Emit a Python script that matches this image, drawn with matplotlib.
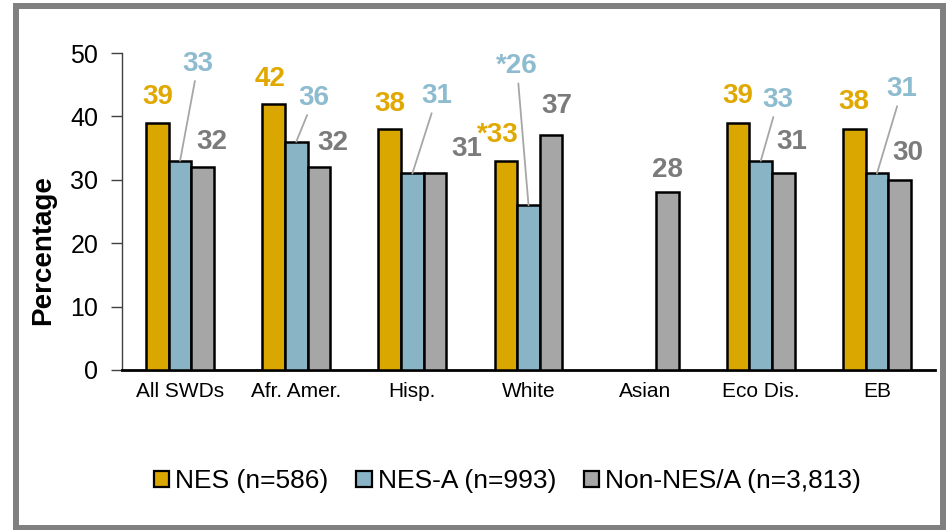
import matplotlib
matplotlib.use('Agg')
import matplotlib.pyplot as plt
import numpy as np
from matplotlib.patches import Rectangle

plt.rcParams['font.family'] = ['Liberation Sans', 'DejaVu Sans']

# data
categories = ['All SWDs', 'Afr. Amer.', 'Hisp.', 'White', 'Asian', 'Eco Dis.', 'EB']
nes = [39, 42, 38, 33, np.nan, 39, 38]
nes_a = [33, 36, 31, 26, np.nan, 33, 31]
non_nes = [32, 32, 31, 37, 28, 31, 30]
nes_labels = ['39', '42', '38', '*33', '', '39', '38']
nes_a_labels = ['33', '36', '31', '*26', '', '33', '31']
non_labels = ['32', '32', '31', '37', '28', '31', '30']
series_names = ['NES (n=586)', 'NES-A (n=993)', 'Non-NES/A (n=3,813)']

# label placement (offsets from bar top, data units)
nes_dx = [0.0, -0.03, 0.0, -0.07, 0.0, 0.0, 0.0]
nes_dy = [4.1, 3.9, 3.9, 4.0, 0.0, 4.2, 4.2]
non_dx = [0.08, 0.12, 0.275, 0.05, 0.0, 0.075, 0.075]
non_dy = [3.9, 3.8, 3.8, 4.6, 3.6, 4.9, 4.3]
nes_a_dx = [0.155, 0.154, 0.213, -0.10, 0.0, 0.15, 0.218]
nes_a_dy = [15.3, 6.9, 12.2, 21.9, 0.0, 9.6, 13.3]

gold, blue, grey = '#D9A700', '#88B4C6', '#A6A6A6'
gold_txt, blue_txt, grey_txt = '#E0A800', '#8DBBCF', '#7B7B7B'

fig = plt.figure(figsize=(9.51, 5.30), dpi=100)
ax = fig.add_axes([0.1283, 0.3019, 0.8549, 0.5981])

x = np.arange(len(categories))
w = 0.195
ax.bar(x - w, nes, w, color=gold, edgecolor='black', linewidth=1.8, label=series_names[0], zorder=3)
ax.bar(x, nes_a, w, color=blue, edgecolor='black', linewidth=1.8, label=series_names[1], zorder=3)
ax.bar(x + w, non_nes, w, color=grey, edgecolor='black', linewidth=1.8, label=series_names[2], zorder=3)

lab_font = dict(fontsize=20, fontweight='bold', ha='center', va='center')
for i in range(len(categories)):
    if not np.isnan(nes[i]):
        ax.text(x[i] - w + nes_dx[i], nes[i] + nes_dy[i], nes_labels[i], color=gold_txt, **lab_font)
    if not np.isnan(nes_a[i]):
        ax.annotate(nes_a_labels[i], xy=(x[i], nes_a[i]),
                    xytext=(x[i] + nes_a_dx[i], nes_a[i] + nes_a_dy[i]),
                    color=blue_txt, **lab_font,
                    arrowprops=dict(arrowstyle='-', color='#A6A6A6', lw=1.3,
                                    shrinkA=1, shrinkB=0))
    ax.text(x[i] + w + non_dx[i], non_nes[i] + non_dy[i], non_labels[i], color=grey_txt, **lab_font)

ax.set_xlim(-0.5, len(categories) - 0.5)
ax.set_ylim(0, 50)
ax.set_yticks(range(0, 51, 10))
ax.set_xticks(x)
ax.set_xticklabels(categories, fontsize=15)
ax.tick_params(axis='x', length=0, pad=9)
ax.tick_params(axis='y', labelsize=18, length=8, width=1, color='#404040', pad=9)
for s in ['top', 'right']:
    ax.spines[s].set_visible(False)
ax.spines['left'].set_color('#404040')
ax.spines['left'].set_linewidth(1)
ax.spines['bottom'].set_color('black')
ax.spines['bottom'].set_linewidth(2)

fig.text(0.0452, 0.528, 'Percentage', rotation=90, ha='center', va='center',
         fontsize=20, fontweight='bold')

leg = fig.legend(loc='center', bbox_to_anchor=(0.5337, 0.0925), ncol=3, frameon=False,
                 fontsize=19, handlelength=0.57, handleheight=0.55, handletextpad=0.23,
                 columnspacing=1.06)
for h in leg.legend_handles:
    h.set_linewidth(1.6)

# outer frame
fig.patches.append(Rectangle((0.0168, 0.0047), 0.9753, 0.984, transform=fig.transFigure,
                             fill=False, edgecolor='#808080', linewidth=4.3))

plt.savefig('out.png', dpi=100)
